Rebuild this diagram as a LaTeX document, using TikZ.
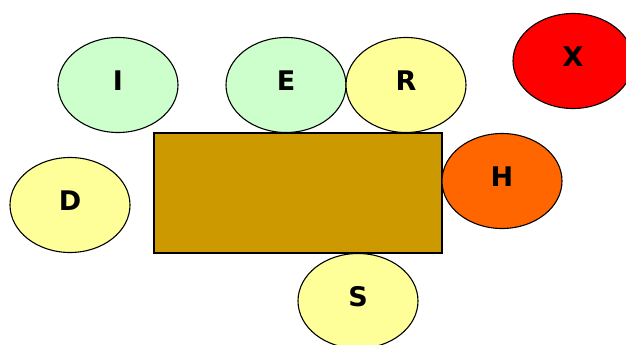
\documentclass[tikz,border=0pt]{standalone}
\usepackage{fontspec}
\setmainfont{DejaVu Sans}
\usetikzlibrary{shapes.geometric}
\definecolor{lgreen}{HTML}{CCFFCC}
\definecolor{lyellow}{HTML}{FFFF99}
\definecolor{xred}{HTML}{FF0000}
\definecolor{horange}{HTML}{FF6600}
\definecolor{boxgold}{HTML}{CC9900}
\newcommand{\lbl}[1]{\raisebox{9pt}{#1}}
\begin{document}
\begin{tikzpicture}[x=1pt,y=-1pt,
  ell/.style={ellipse,draw=black,line width=1.1pt,minimum width=120pt,minimum height=95pt,inner sep=0pt,font=\bfseries\fontsize{27}{30}\selectfont},
  box/.style={draw=black,line width=1.1pt,fill=boxgold}]
\useasboundingbox (0,0) rectangle (626,345);
\draw[box] (154,133) rectangle (442,253);
\node[ell,fill=lgreen] (I) at (118,85) {\lbl{I}};
\node[ell,fill=lgreen] (E) at (286,85) {\lbl{E}};
\node[ell,fill=lyellow] (R) at (406,85) {\lbl{R}};
\node[ell,fill=xred] (X) at (573,61) {\lbl{X}};
\node[ell,fill=lyellow] (D) at (70,205) {\lbl{D}};
\node[ell,fill=horange] (H) at (502,181) {\lbl{H}};
\node[ell,fill=lyellow] (S) at (358,301) {\lbl{S}};
\end{tikzpicture}
\end{document}
